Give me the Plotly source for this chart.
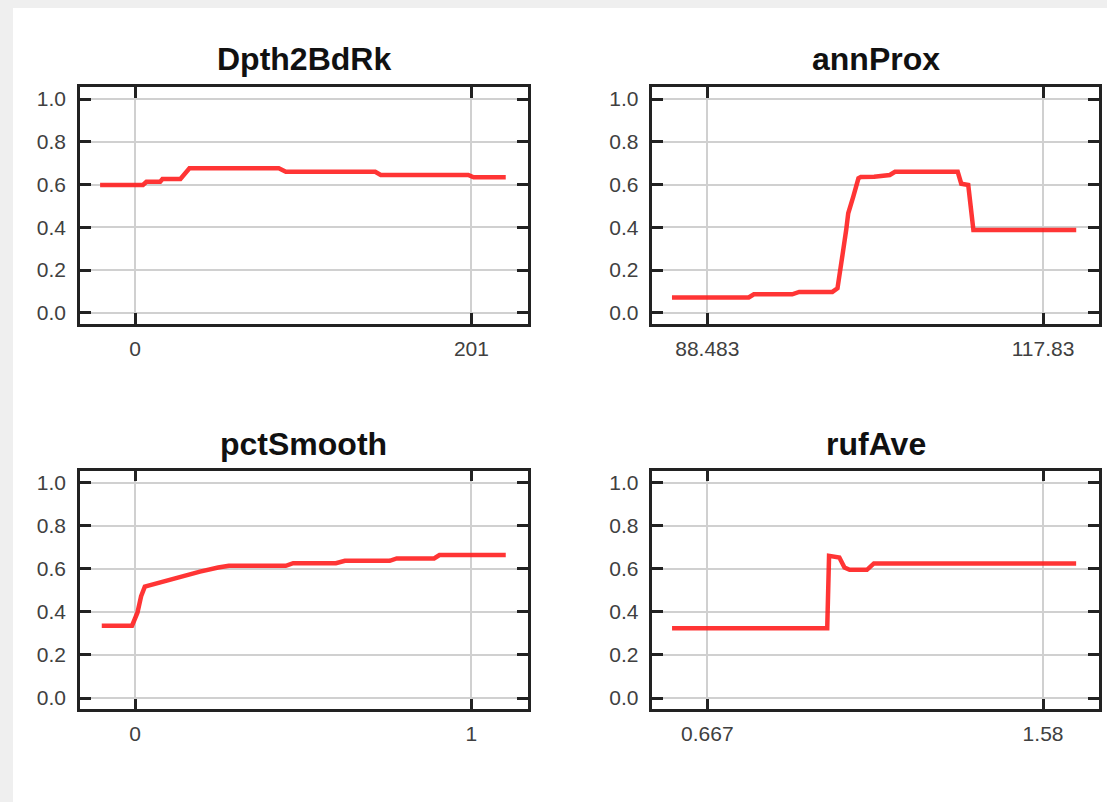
import plotly.graph_objects as go

# ---- data ----
titles = ["Dpth2BdRk", "annProx", "pctSmooth", "rufAve"]

dpth_x = [-20.9, 4.7, 6.8, 15.0, 16.4, 27.1, 32.5, 85.9, 90.1, 143.5, 146.8, 199.1, 202.3, 221.5]
dpth_y = [0.598, 0.598, 0.613, 0.613, 0.626, 0.626, 0.676, 0.676, 0.660, 0.660, 0.645, 0.645, 0.634, 0.634]

ann_x = [85.39, 92.10, 92.55, 95.90, 96.51, 99.41, 99.86, 100.10, 100.32, 100.62, 100.80,
         101.24, 101.69, 101.9, 103.06, 104.43, 104.89, 110.37, 110.68, 111.29, 111.74, 120.73]
ann_y = [0.072, 0.072, 0.087, 0.087, 0.098, 0.098, 0.115, 0.216, 0.279, 0.388, 0.466,
         0.544, 0.629, 0.635, 0.637, 0.645, 0.660, 0.660, 0.604, 0.598, 0.388, 0.388]

pct_x = [-0.099, -0.009, 0.007, 0.018, 0.029, 0.077, 0.13, 0.193, 0.247, 0.279,
         0.448, 0.47, 0.597, 0.624, 0.757, 0.778, 0.889, 0.905, 1.102]
pct_y = [0.336, 0.336, 0.396, 0.473, 0.517, 0.539, 0.559, 0.587, 0.606, 0.614,
         0.614, 0.626, 0.626, 0.637, 0.637, 0.648, 0.648, 0.664, 0.664]

ruf_x = [0.571, 0.993, 0.998, 1.026, 1.040, 1.054, 1.101, 1.120, 1.670]
ruf_y = [0.324, 0.324, 0.660, 0.652, 0.606, 0.595, 0.595, 0.625, 0.625]

x_tickvals = [[0, 201], [88.483, 117.83], [0, 1], [0.667, 1.58]]
x_ticktext = [["0", "201"], ["88.483", "117.83"], ["0", "1"], ["0.667", "1.58"]]
y_tickvals = [0.0, 0.2, 0.4, 0.6, 0.8, 1.0]
y_ticktext = ["0.0", "0.2", "0.4", "0.6", "0.8", "1.0"]

series = [(dpth_x, dpth_y), (ann_x, ann_y), (pct_x, pct_y), (ruf_x, ruf_y)]

# ---- layout geometry ----
W, H = 1107, 802
col_dom = [[80 / W, 527.5 / W], [652.4 / W, 1099 / W]]
row_dom = [[1 - 324 / H, 1 - 87.3 / H], [1 - 709.3 / H, 1 - 470.7 / H]]
title_y = [1 - 59 / H, 1 - 444 / H]

fig = go.Figure()
tickfont = dict(family="Liberation Sans, Arial, sans-serif", size=21, color="#404040")

for i, (xs, ys) in enumerate(series):
    r, c = divmod(i, 2)
    n = "" if i == 0 else str(i + 1)
    fig.add_trace(go.Scatter(
        x=xs, y=ys, mode="lines",
        line=dict(color="rgba(255,25,25,0.88)", width=4.5),
        xaxis="x" + n, yaxis="y" + n, showlegend=False, hoverinfo="skip"))
    tv = x_tickvals[i]
    span = tv[1] - tv[0]
    xr = [tv[0] - span * 55 / 336, tv[1] + span * 56 / 336]
    common = dict(showline=True, linecolor="#222222", linewidth=2.5, mirror="ticks",
                  ticks="inside", ticklen=11, tickwidth=2.5, tickcolor="#222222",
                  showgrid=True, gridcolor="#d0d0d0", gridwidth=1.5, zeroline=False,
                  tickfont=tickfont, fixedrange=True)
    fig.layout["xaxis" + n] = dict(common, domain=col_dom[c], range=xr,
                                   tickmode="array", tickvals=tv, ticktext=x_ticktext[i],
                                   anchor="y" + n, ticklabelstandoff=4)
    fig.layout["yaxis" + n] = dict(common, domain=row_dom[r], range=[-0.052, 1.055],
                                   tickmode="array", tickvals=y_tickvals, ticktext=y_ticktext,
                                   anchor="x" + n, ticklabelstandoff=7)
    fig.add_annotation(text="<b>%s</b>" % titles[i], xref="paper", yref="paper",
                       x=(col_dom[c][0] + col_dom[c][1]) / 2, y=title_y[r],
                       xanchor="center", yanchor="middle", showarrow=False,
                       font=dict(family="Liberation Sans, Arial, sans-serif", size=32, color="#111111"))

fig.add_shape(type="rect", xref="paper", yref="paper", x0=13 / W, x1=1, y0=0, y1=1 - 8 / H,
              fillcolor="white", line=dict(width=0), layer="below")

fig.update_layout(width=W, height=H, autosize=False,
                  margin=dict(l=0, r=0, t=0, b=0),
                  paper_bgcolor="#efefef", plot_bgcolor="white")

fig.write_html("out.html", config={"displayModeBar": False},
               post_script="document.body.style.margin='0';document.body.style.overflow='hidden';")
